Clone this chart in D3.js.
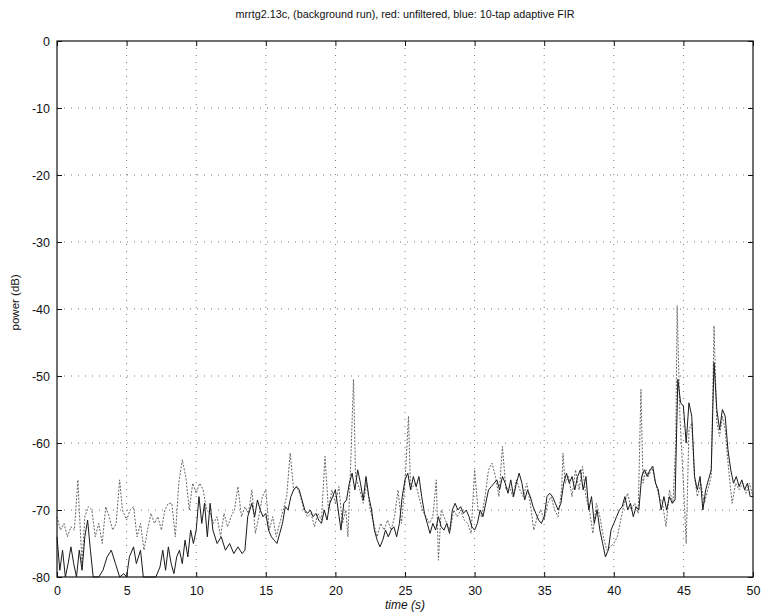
<!DOCTYPE html>
<html>
<head>
<meta charset="utf-8">
<script src="https://cdn.jsdelivr.net/npm/d3@7"></script>
<style>
  body { margin: 0; background: #fff; }
  svg { font-family: "Liberation Sans", Arial, sans-serif; }
</style>
</head>
<body>
<div id="chart"></div>
<script>
// power (dB) vs time (s)
const titleText = "mrrtg2.13c, (background run), red: unfiltered, blue: 10-tap adaptive FIR"
const xTicks = [0, 5, 10, 15, 20, 25, 30, 35, 40, 45, 50]
const yTicks = [0, -10, -20, -30, -40, -50, -60, -70, -80]

// unfiltered (drawn light / dotted in the scan)
const unfiltered = [
  [0, -71], [0.25, -73], [0.5, -72], [0.75, -74], [1.0, -72.5], [1.25, -73], [1.5, -65.5], [1.6, -70],
  [1.8, -78], [2.0, -71], [2.25, -69.5], [2.5, -70], [2.75, -74], [3.0, -72], [3.25, -75], [3.5, -69.5],
  [3.75, -71], [4.0, -73], [4.25, -72], [4.5, -65.5], [4.7, -70], [5.0, -71.5], [5.25, -70], [5.5, -69.5],
  [5.75, -74], [6.0, -72], [6.25, -76], [6.5, -73], [6.75, -70.5], [7.0, -72], [7.25, -71], [7.5, -73],
  [7.75, -70], [8.0, -69], [8.25, -69], [8.5, -74], [8.75, -66], [9.0, -62.5], [9.25, -65], [9.5, -70],
  [9.75, -66], [10.0, -67.5], [10.25, -66], [10.5, -67], [10.75, -70], [11.0, -70.5], [11.25, -72],
  [11.5, -71], [11.75, -74], [12.0, -70.5], [12.25, -72.5], [12.5, -71], [12.75, -70], [13.0, -66.5],
  [13.25, -71], [13.5, -69.5], [13.75, -70.5], [14.0, -67], [14.25, -73.5], [14.5, -71], [14.75, -68],
  [15.0, -67], [15.25, -73], [15.5, -71], [15.75, -74], [16.0, -72], [16.25, -70], [16.5, -68],
  [16.75, -61.5], [17.0, -67], [17.25, -66.5], [17.5, -68], [17.75, -70], [18.0, -71], [18.25, -70.5],
  [18.5, -72.5], [18.75, -70.5], [19.0, -71.5], [19.25, -62], [19.5, -70], [19.75, -67], [20.0, -69],
  [20.25, -66.5], [20.5, -72], [20.75, -70], [20.9, -74], [21.1, -63], [21.3, -50.5], [21.45, -65],
  [21.75, -67], [22.0, -69], [22.25, -66], [22.5, -70], [22.75, -72], [23.0, -74], [23.25, -72],
  [23.5, -73], [23.75, -71.5], [24.0, -73], [24.25, -71], [24.5, -67], [24.75, -72], [25.0, -66],
  [25.25, -56], [25.4, -67], [25.75, -66], [26.0, -68], [26.25, -70], [26.5, -71], [26.75, -72],
  [27.0, -71], [27.25, -65.5], [27.4, -77.5], [27.6, -70], [28.0, -72], [28.25, -73], [28.5, -70],
  [28.75, -71], [29.0, -70], [29.25, -71.5], [29.5, -72], [29.75, -73.5], [30.0, -64], [30.25, -70],
  [30.5, -71], [30.75, -68], [31.0, -64], [31.25, -63], [31.5, -65], [31.75, -68], [32.0, -60.5],
  [32.25, -67], [32.5, -66.5], [32.75, -68], [33.0, -65.5], [33.25, -67], [33.5, -68], [33.75, -66],
  [34.0, -69], [34.25, -73], [34.5, -71], [34.75, -70], [35.0, -71.5], [35.25, -69], [35.5, -68],
  [35.75, -70], [36.0, -71], [36.25, -67], [36.35, -61.5], [36.5, -66], [36.75, -65], [37.0, -68],
  [37.25, -64], [37.5, -67], [37.75, -63.5], [38.0, -68], [38.25, -70], [38.5, -73.5], [38.75, -69],
  [39.0, -71], [39.25, -74], [39.5, -76], [39.75, -75.5], [40.0, -75], [40.25, -74], [40.5, -71.5],
  [40.75, -69], [41.0, -67.5], [41.25, -70], [41.5, -69], [41.75, -70.5], [41.95, -52], [42.1, -66],
  [42.3, -64], [42.5, -65], [42.75, -63.5], [43.0, -66], [43.25, -68], [43.5, -69], [43.75, -72.5],
  [44.0, -67], [44.25, -69], [44.45, -60], [44.55, -39.5], [44.75, -56], [45.0, -66], [45.2, -75],
  [45.4, -58], [45.6, -57], [45.8, -65], [46.0, -68], [46.25, -66], [46.5, -69], [46.75, -67],
  [47.0, -65], [47.2, -42.5], [47.4, -57], [47.6, -59], [47.8, -56], [48.0, -58], [48.25, -64],
  [48.5, -69], [48.75, -66], [49.0, -67], [49.25, -66], [49.5, -67.5], [49.75, -66], [50.0, -68]
]

// 10-tap adaptive FIR output (drawn dark / solid in the scan)
const filtered = [
  [0, -74], [0.2, -79], [0.4, -76], [0.6, -80], [0.8, -78], [1.0, -75.5], [1.2, -78], [1.4, -80],
  [1.6, -76], [1.8, -79], [2.0, -74], [2.2, -71.5], [2.4, -76], [2.6, -80], [2.8, -80], [3.0, -80],
  [3.3, -79], [3.6, -77], [3.9, -76], [4.2, -78], [4.5, -80], [4.8, -79.5], [5.0, -80], [5.2, -77],
  [5.5, -75.5], [5.7, -78], [6.0, -76], [6.2, -80], [6.5, -80], [6.8, -80], [7.1, -80], [7.4, -78.5],
  [7.6, -76], [7.8, -79], [8.0, -75.5], [8.2, -78], [8.4, -79.5], [8.6, -77], [8.8, -76], [9.0, -78],
  [9.2, -74.5], [9.4, -77], [9.6, -73], [9.8, -75], [10.0, -73], [10.2, -68], [10.4, -72], [10.6, -69],
  [10.8, -74], [11.0, -69], [11.2, -73], [11.5, -75], [11.8, -74], [12.1, -76], [12.4, -75],
  [12.7, -76.5], [13.0, -75.5], [13.3, -76.5], [13.5, -76], [13.7, -71], [14.0, -69], [14.2, -71],
  [14.4, -68.5], [14.6, -70], [14.8, -71], [15.0, -70.5], [15.2, -73], [15.4, -74], [15.6, -74.5],
  [15.8, -75], [16.0, -73.5], [16.2, -72], [16.4, -69.5], [16.6, -70], [16.8, -68], [17.0, -67],
  [17.2, -66.5], [17.4, -67], [17.6, -68.5], [17.8, -70], [18.0, -70.5], [18.2, -70], [18.4, -71],
  [18.6, -70.5], [18.8, -71.5], [19.0, -72], [19.2, -70], [19.4, -71.5], [19.6, -69], [19.8, -68],
  [20.0, -67], [20.2, -70], [20.4, -73], [20.6, -69], [20.8, -68.5], [21.0, -66], [21.2, -64.5],
  [21.4, -67], [21.6, -64], [21.8, -66], [22.0, -68.5], [22.2, -65], [22.4, -68], [22.6, -70],
  [22.8, -73], [23.0, -74.5], [23.2, -75.5], [23.4, -74.5], [23.6, -73], [23.8, -74], [24.0, -73],
  [24.2, -72.5], [24.4, -74], [24.6, -72], [24.8, -68], [25.0, -65.5], [25.2, -64.5], [25.4, -67],
  [25.6, -65], [25.8, -66.5], [26.0, -65], [26.2, -68], [26.4, -70.5], [26.6, -72], [26.8, -73.5],
  [27.0, -72], [27.2, -73], [27.4, -71], [27.6, -72.5], [27.8, -73], [28.0, -72], [28.2, -73.5],
  [28.4, -70], [28.6, -69], [28.8, -70], [29.0, -69.5], [29.2, -70.5], [29.4, -70], [29.6, -71],
  [29.8, -72.5], [30.0, -73], [30.2, -72], [30.4, -70], [30.6, -71], [30.8, -69], [31.0, -67],
  [31.2, -66.5], [31.4, -66], [31.6, -65.5], [31.8, -67], [32.0, -65], [32.2, -66], [32.4, -67.5],
  [32.6, -65.5], [32.8, -68], [33.0, -66], [33.2, -64.5], [33.4, -66], [33.6, -68.5], [33.8, -67],
  [34.0, -68], [34.2, -69.5], [34.4, -70.5], [34.6, -71.5], [34.8, -72], [35.0, -71], [35.2, -68],
  [35.4, -67.5], [35.6, -68], [35.8, -69], [36.0, -70], [36.2, -69], [36.4, -66], [36.6, -64.5],
  [36.8, -66], [37.0, -65], [37.2, -67], [37.4, -65], [37.6, -64], [37.8, -67], [38.0, -65],
  [38.2, -70], [38.4, -68], [38.6, -72], [38.8, -70], [39.0, -73], [39.2, -75], [39.4, -77],
  [39.6, -76], [39.8, -73], [40.0, -72], [40.2, -71], [40.4, -70], [40.6, -69.5], [40.8, -68],
  [41.0, -70], [41.2, -69], [41.4, -71], [41.6, -69.5], [41.8, -70], [42.0, -65], [42.2, -64],
  [42.4, -65], [42.6, -64], [42.8, -63.5], [43.0, -66], [43.2, -67], [43.4, -70], [43.6, -68],
  [43.8, -70], [44.0, -68], [44.2, -69], [44.4, -68.5], [44.6, -50.5], [44.8, -54], [45.0, -54.5],
  [45.2, -60], [45.4, -54], [45.6, -56], [45.8, -65], [46.0, -67], [46.2, -65], [46.4, -70],
  [46.6, -67], [46.8, -65.5], [47.0, -64], [47.2, -48], [47.4, -55], [47.6, -58], [47.8, -55],
  [48.0, -56], [48.2, -61], [48.4, -64], [48.6, -66], [48.8, -65], [49.0, -66.5], [49.2, -65.5],
  [49.4, -67], [49.6, -66], [49.8, -68], [50.0, -68]
]

function drawChart() {
  const xAccessor = d => d[0]
  const yAccessor = d => d[1]

  // dimensions
  let dimensions = {
    width: 761,
    height: 614,
    margin: { top: 41, right: 8, bottom: 37, left: 57 },
  }
  dimensions.boundedWidth = dimensions.width - dimensions.margin.left - dimensions.margin.right
  dimensions.boundedHeight = dimensions.height - dimensions.margin.top - dimensions.margin.bottom

  const wrapper = d3.select("#chart")
    .append("svg")
      .attr("width", dimensions.width)
      .attr("height", dimensions.height)

  const bounds = wrapper.append("g")
      .attr("transform", `translate(${dimensions.margin.left},${dimensions.margin.top})`)

  // scales
  const xScale = d3.scaleLinear()
    .domain([0, 50])
    .range([0, dimensions.boundedWidth])

  const yScale = d3.scaleLinear()
    .domain([-80, 0])
    .range([dimensions.boundedHeight, 0])

  // dotted grid
  const grid = bounds.append("g")
    .attr("stroke", "#777")
    .attr("stroke-width", 1)
    .attr("stroke-dasharray", "1,6")

  grid.selectAll(".vgrid")
    .data(xTicks.slice(1, -1))
    .enter().append("line")
      .attr("x1", d => xScale(d)).attr("x2", d => xScale(d))
      .attr("y1", 0).attr("y2", dimensions.boundedHeight)

  grid.selectAll(".hgrid")
    .data(yTicks.slice(1, -1))
    .enter().append("line")
      .attr("x1", 0).attr("x2", dimensions.boundedWidth)
      .attr("y1", d => yScale(d)).attr("y2", d => yScale(d))

  // lines
  const lineGenerator = d3.line()
    .x(d => xScale(xAccessor(d)))
    .y(d => yScale(yAccessor(d)))

  bounds.append("path")
    .datum(unfiltered)
      .attr("d", lineGenerator)
      .attr("fill", "none")
      .attr("stroke", "#666")
      .attr("stroke-width", 1)
      .attr("stroke-dasharray", "2,1.5")

  bounds.append("path")
    .datum(filtered)
      .attr("d", lineGenerator)
      .attr("fill", "none")
      .attr("stroke", "#1a1a1a")
      .attr("stroke-width", 1)

  // axes, MATLAB style inward ticks; plain hyphen for minus like the scan
  const plainFormat = d => String(d)

  const xAxisGenerator = d3.axisBottom(xScale)
    .tickValues(xTicks)
    .tickFormat(plainFormat)
    .tickSizeInner(-5)
    .tickSizeOuter(0)
    .tickPadding(9)

  const yAxisGenerator = d3.axisLeft(yScale)
    .tickValues(yTicks)
    .tickFormat(plainFormat)
    .tickSizeInner(-5)
    .tickSizeOuter(0)
    .tickPadding(7)

  const xAxis = bounds.append("g")
    .call(xAxisGenerator)
    .attr("transform", `translate(0,${dimensions.boundedHeight})`)
  xAxis.select(".domain").remove()

  const yAxis = bounds.append("g")
    .call(yAxisGenerator)
  yAxis.select(".domain").remove()

  // mirrored ticks on top and right
  bounds.append("g")
    .call(d3.axisTop(xScale).tickValues(xTicks).tickSizeInner(-5).tickSizeOuter(0).tickFormat(""))
    .select(".domain").remove()
  bounds.append("g")
    .attr("transform", `translate(${dimensions.boundedWidth},0)`)
    .call(d3.axisRight(yScale).tickValues(yTicks).tickSizeInner(-5).tickSizeOuter(0).tickFormat(""))
    .select(".domain").remove()

  bounds.selectAll(".tick text")
    .style("font-size", "12.5px")
    .style("fill", "#111")
  bounds.selectAll(".tick line")
    .attr("stroke", "#111")

  // frame
  bounds.append("rect")
    .attr("width", dimensions.boundedWidth)
    .attr("height", dimensions.boundedHeight)
    .attr("fill", "none")
    .attr("stroke", "#111")
    .attr("stroke-width", 1.2)

  // labels
  wrapper.append("text")
    .attr("x", 405)
    .attr("y", 18)
    .attr("text-anchor", "middle")
    .style("font-size", "10.8px")
    .style("fill", "#111")
    .text(titleText)

  wrapper.append("text")
    .attr("x", dimensions.margin.left + xScale(25))
    .attr("y", 609)
    .attr("text-anchor", "middle")
    .style("font-size", "12px")
    .style("font-style", "italic")
    .style("fill", "#111")
    .text("time (s)")

  wrapper.append("text")
    .attr("transform", `translate(19,${dimensions.margin.top + yScale(-39)}) rotate(-90)`)
    .attr("text-anchor", "middle")
    .style("font-size", "11.5px")
    .style("fill", "#111")
    .text("power (dB)")
}
drawChart()
</script>
</body>
</html>
